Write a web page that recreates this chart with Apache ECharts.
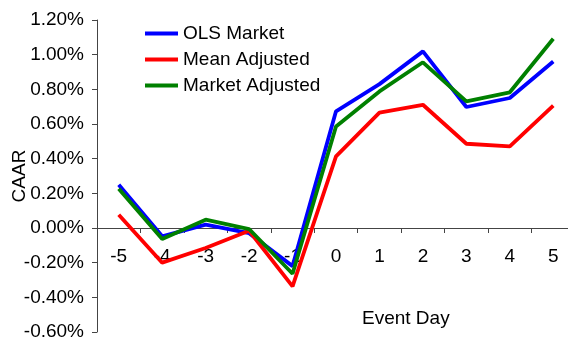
<!DOCTYPE html>
<html>
<head>
<meta charset="utf-8">
<script src="https://cdn.jsdelivr.net/npm/echarts@6/dist/echarts.min.js"></script>
<style>
  html, body { margin: 0; padding: 0; background: #fff; }
  #chart { width: 568px; height: 339px; }
</style>
</head>
<body>
<div id="chart"></div>
<script>
// Event days around the announcement
const eventDays = ['-5', '-4', '-3', '-2', '-1', '0', '1', '2', '3', '4', '5'];

// Cumulative average abnormal returns, in percent
const olsMarket = [0.25, -0.048, 0.019, -0.03, -0.22, 0.673, 0.83, 1.019, 0.698, 0.75, 0.961];
const meanAdjusted = [0.077, -0.20, -0.115, -0.016, -0.337, 0.413, 0.666, 0.711, 0.486, 0.471, 0.706];
const marketAdjusted = [0.227, -0.064, 0.048, -0.006, -0.264, 0.586, 0.788, 0.956, 0.731, 0.783, 1.092];

const seriesNames = ['OLS Market', 'Mean Adjusted', 'Market Adjusted'];
const seriesColors = ['#0000ff', '#ff0000', '#008000'];

const FONT = 'Liberation Sans, Arial, sans-serif';
const AXIS_COLOR = '#444';

// plot area and value range
const GRID = { left: 97, right: -7, top: 20, bottom: 7 };
const Y_MIN = -0.6, Y_MAX = 1.2;
const CHART_H = 339;
// distance from the bottom edge of the plot up to the zero line
const plotH = CHART_H - GRID.top - GRID.bottom;
const zeroOffset = -plotH * (0 - Y_MIN) / (Y_MAX - Y_MIN);

const chart = echarts.init(document.getElementById('chart'), null, { renderer: 'canvas' });

const seriesData = [olsMarket, meanAdjusted, marketAdjusted];

chart.setOption({
  animation: false,
  backgroundColor: '#fff',
  textStyle: { fontFamily: FONT },
  grid: Object.assign({ containLabel: false, outerBoundsMode: 'none' }, GRID),
  legend: {
    orient: 'vertical',
    left: 145,
    top: 24,
    padding: 0,
    itemWidth: 33,
    itemHeight: 4,
    itemGap: 7,
    icon: 'rect',
    data: seriesNames,
    textStyle: { fontFamily: FONT, fontSize: 19, color: '#000', padding: [0, 0, 0, 0] }
  },
  xAxis: {
    type: 'category',
    data: eventDays,
    boundaryGap: true,
    position: 'bottom',
    offset: zeroOffset,
    axisLine: { show: true, onZero: false, lineStyle: { color: AXIS_COLOR, width: 1 } },
    axisTick: { show: true, inside: false, length: 5, alignWithLabel: false, lineStyle: { color: AXIS_COLOR } },
    axisLabel: { show: true, interval: 0, fontFamily: FONT, fontSize: 19, color: '#000', margin: 19 },
    splitLine: { show: false }
  },
  yAxis: {
    type: 'value',
    min: Y_MIN,
    max: Y_MAX,
    interval: 0.2,
    name: 'CAAR',
    nameLocation: 'middle',
    nameGap: 68,
    nameRotate: 90,
    nameMoveOverlap: false,
    nameTextStyle: { fontFamily: FONT, fontSize: 19, color: '#000' },
    axisLine: { show: true, onZero: false, lineStyle: { color: AXIS_COLOR, width: 1 } },
    axisTick: { show: true, length: 5, lineStyle: { color: AXIS_COLOR } },
    axisLabel: {
      fontFamily: FONT, fontSize: 19, color: '#000', margin: 13,
      formatter: v => v.toFixed(2) + '%'
    },
    splitLine: { show: false }
  },
  graphic: [{
    type: 'text',
    left: 362,
    top: 309,
    style: {
      text: 'Event Day',
      font: '19px ' + FONT,
      fill: '#000',
      textAlign: 'center',
      textVerticalAlign: 'middle'
    }
  }],
  series: seriesNames.map((name, i) => ({
    name: name,
    type: 'line',
    data: seriesData[i],
    symbol: 'none',
    color: seriesColors[i],
    lineStyle: { color: seriesColors[i], width: 3.8 },
    z: 2 + i
  }))
});
</script>
</body>
</html>
